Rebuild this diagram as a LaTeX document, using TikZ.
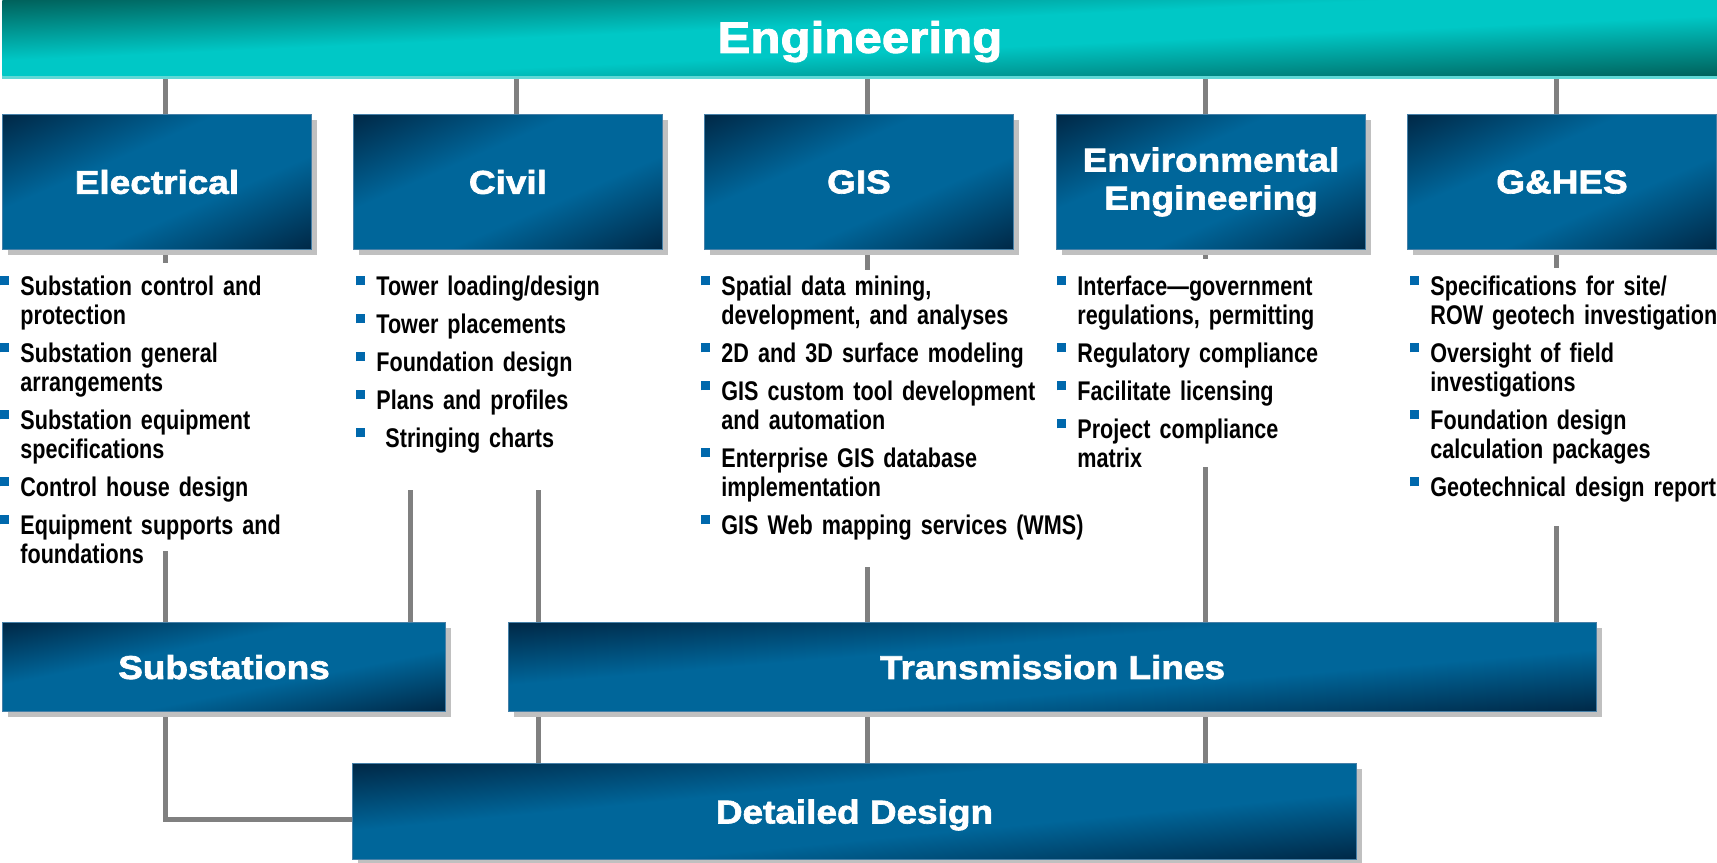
\documentclass[tikz,border=0pt]{standalone}
\usepackage{fontspec}
\setmainfont{Liberation Sans}
\newfontfamily\headfont[FakeStretch=1.12,FakeBold=2]{Liberation Sans}
\newfontfamily\listfont[FakeStretch=0.8]{Liberation Sans}
\usepackage{xcolor}
\usepackage{tikz}
\usetikzlibrary{shadows,backgrounds}

\definecolor{boxmid}{RGB}{0,102,154}
\definecolor{boxedge}{RGB}{70,128,168}
\definecolor{tealmid}{RGB}{0,200,198}
\definecolor{tealedge}{RGB}{96,216,214}
\definecolor{shadowgray}{RGB}{192,192,192}
\definecolor{linegray}{RGB}{128,128,128}
\definecolor{bulletblue}{RGB}{0,104,172}

% dark in the top left and bottom right corners, plain colour along the other diagonal
\pgfdeclarefunctionalshading{boxshade}{\pgfpointorigin}{\pgfpoint{100bp}{100bp}}{}{
  sub abs 50 div 0.3 sub 0.7 div
  dup 0 lt {pop 0} if dup 1 gt {pop 1} if
  dup 0 mul 0 add exch dup -0.243 mul 0.4 add exch -0.329 mul 0.604 add
}
\pgfdeclarefunctionalshading{tealshade}{\pgfpointorigin}{\pgfpoint{100bp}{100bp}}{}{
  sub abs 50 div 0.2 sub 0.8 div
  dup 0 lt {pop 0} if dup 1 gt {pop 1} if
  dup 0 mul 0 add exch dup -0.4 mul 0.784 add exch -0.415 mul 0.776 add
}

% one bullet of a list
\newcommand{\bitem}{\ifvmode\else\par\vspace{4.5pt}\fi\noindent\strut\llap{\textcolor{bulletblue}{\rule[5pt]{4.5pt}{4.5pt}}\hspace{5.5pt}}}

\tikzset{
  grp/.style={anchor=north west, inner sep=0pt, shading=boxshade,
    draw=boxedge, line width=0.5pt, text=white, align=center,
    font=\headfont\bfseries\fontsize{16.5pt}{19pt}\selectfont,
    general shadow={fill=shadowgray, shadow xshift=2.5pt, shadow yshift=-2.5pt}},
  unitbox/.style={grp, minimum width=154.5pt, minimum height=67.5pt},
  lowbox/.style={grp, minimum height=44.5pt, text depth=0pt},
  banner/.style={anchor=north west, inner sep=0pt, shading=tealshade,
    minimum width=857.5pt, minimum height=37.5pt, text=white, text depth=1pt,
    font=\headfont\bfseries\fontsize{22pt}{24pt}\selectfont,
    general shadow={fill=tealedge, shadow yshift=-2pt}},
  list/.style={anchor=north west, inner sep=0pt, text width=185pt, align=left,
    font=\listfont\bfseries\fontsize{13.5pt}{14.5pt}\selectfont},
  link/.style={draw=linegray, line width=2.5pt}
}

\begin{document}
\begin{tikzpicture}[x=0.5pt,y=-0.5pt]
\useasboundingbox (0,0) rectangle (1717,862);

% title bar
\node[banner] (eng) at (2,0) {Engineering};

% the five groups
\node[unitbox] (elec) at (2,114) {Electrical};
\node[unitbox] (civil) at (353,114) {Civil};
\node[unitbox] (gis) at (704,114) {GIS};
\node[unitbox] (env) at (1056,114) {Environmental\\Engineering};
\node[unitbox] (ghes) at (1407,114) {G\&HES};

% what each group does
\node[list] (elecList) at (20,257) {\bitem Substation control and\\protection
  \bitem Substation general\\arrangements
  \bitem Substation equipment\\specifications
  \bitem Control house design
  \bitem Equipment supports and\\foundations};
\node[list] (civilList) at (376,257) {\bitem Tower loading/design
  \bitem Tower placements
  \bitem Foundation design
  \bitem Plans and profiles
  \bitem\ Stringing charts};
\node[list] (gisList) at (721,257) {\bitem Spatial data mining,\\development, and analyses
  \bitem 2D and 3D surface modeling
  \bitem GIS custom tool development\\and automation
  \bitem Enterprise GIS database\\implementation
  \bitem GIS Web mapping services (WMS)};
\node[list] (envList) at (1077,257) {\bitem Interface—government\\regulations, permitting
  \bitem Regulatory compliance
  \bitem Facilitate licensing
  \bitem Project compliance\\matrix};
\node[list] (ghesList) at (1430,257) {\bitem Specifications for site/\\ROW geotech investigation
  \bitem Oversight of field\\investigations
  \bitem Foundation design\\calculation packages
  \bitem Geotechnical design report};

% lower level
\node[lowbox, minimum width=221.5pt] (subst) at (2,622) {Substations};
\node[lowbox, minimum width=544pt] (trans) at (508,622) {Transmission Lines};
\node[lowbox, minimum width=502pt, minimum height=48pt] (detail) at (352,763) {Detailed Design};

% line ends
\coordinate (civilX) at (516,0);
\coordinate (elecStub) at (165,263);
\coordinate (gisStub) at (867,270);
\coordinate (envStub) at (1205,259);
\coordinate (ghesStub) at (1556,268);
\coordinate (elecDrop) at (165,551);
\coordinate (civilDropA) at (410,490);
\coordinate (civilDropB) at (538,490);
\coordinate (gisDrop) at (867,567);
\coordinate (envDrop) at (1205,467);
\coordinate (ghesDrop) at (1556,526);
\coordinate (detailIn) at (352,819);

\begin{scope}[on background layer]
\draw[link] (eng.south -| elecStub) -- (elec.north -| elecStub);
\draw[link] (eng.south -| civilX) -- (civil.north -| civilX);
\draw[link] (eng.south -| gisStub) -- (gis.north -| gisStub);
\draw[link] (eng.south -| envStub) -- (env.north -| envStub);
\draw[link] (eng.south -| ghesStub) -- (ghes.north -| ghesStub);

\draw[link] (elec.south -| elecStub) -- (elecStub);
\draw[link] (gis.south -| gisStub) -- (gisStub);
\draw[link] (env.south -| envStub) -- (envStub);
\draw[link] (ghes.south -| ghesStub) -- (ghesStub);

\draw[link] (elecDrop) -- (subst.north -| elecDrop);
\draw[link] (civilDropA) -- (subst.north -| civilDropA);
\draw[link] (civilDropB) -- (trans.north -| civilDropB);
\draw[link] (gisDrop) -- (trans.north -| gisDrop);
\draw[link] (envDrop) -- (trans.north -| envDrop);
\draw[link] (ghesDrop) -- (trans.north -| ghesDrop);

\draw[link] (trans.south -| civilDropB) -- (detail.north -| civilDropB);
\draw[link] (trans.south -| gisDrop) -- (detail.north -| gisDrop);
\draw[link] (trans.south -| envDrop) -- (detail.north -| envDrop);
\draw[link] (subst.south -| elecDrop) |- (detailIn);
\end{scope}
\end{tikzpicture}
\end{document}
